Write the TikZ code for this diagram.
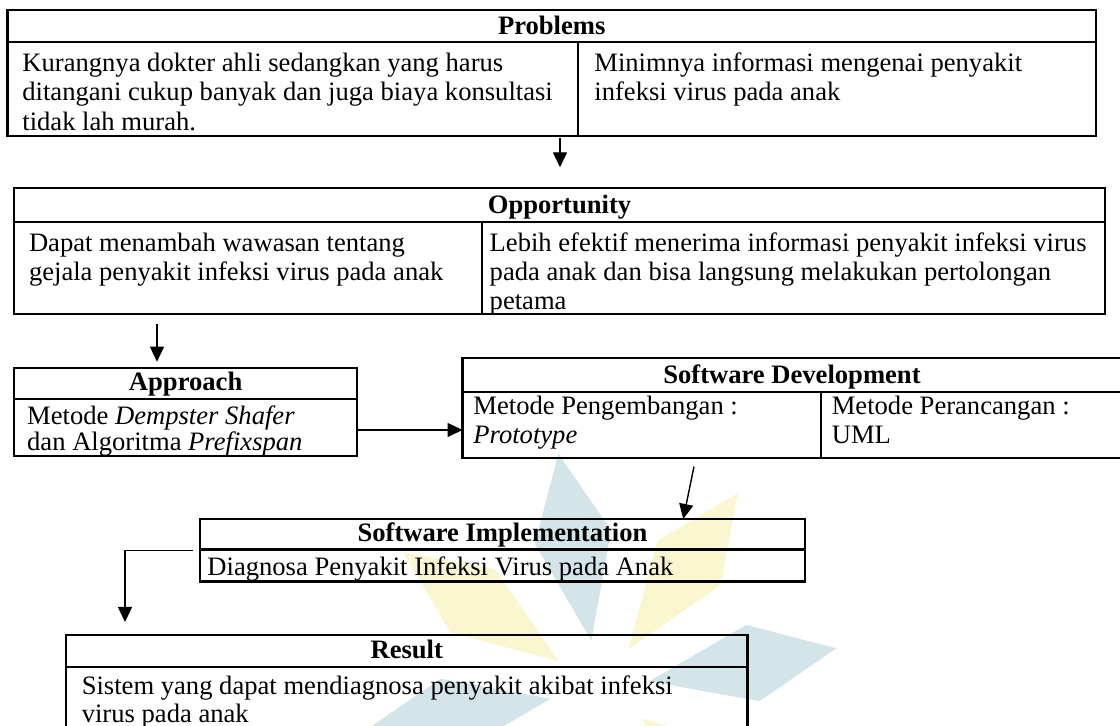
\documentclass[tikz,border=0pt]{standalone}
\usepackage{fontspec}
\setmainfont{Liberation Serif}
\usetikzlibrary{arrows.meta}

\definecolor{wmteal}{RGB}{212,229,234}
\definecolor{wmyellow}{RGB}{250,247,208}

\begin{document}
\begin{tikzpicture}[x=0.5pt,y=-0.5pt,
  box/.style={draw, line width=1.1pt, inner sep=0pt, outer sep=0pt, anchor=north west},
  rule/.style={line width=1.1pt},
  txt/.style={inner sep=0pt, anchor=base west, font=\fontsize{13.3pt}{16pt}\selectfont},
  ttl/.style={inner sep=0pt, anchor=base, font=\fontsize{13.3pt}{16pt}\selectfont\bfseries},
  arr/.style={line width=0.7pt, -{Triangle[length=7.5pt,width=7pt]}}]

\useasboundingbox (0,0) rectangle (1120,726);
\fill[white] (0,0) rectangle (1120,726);
\clip (0,0) rectangle (1120,726);

% faint emblem in the background
\begin{scope}[shift={(600,690)}]
  \foreach \t/\c in {-100/wmteal,-55/wmyellow,-10/wmteal,35/wmyellow,80/wmteal,125/wmyellow,170/wmteal,-145/wmyellow}
    \fill[\c] (\t:50) -- ({\t+14}:160) -- (\t:240) -- ({\t-14}:160) -- cycle;
\end{scope}

% ---------- Problems ----------
\node[box, minimum width=544.25pt, minimum height=63pt] (prob) at (7.5,10) {};
\draw[rule] (7.5,41.7) -- (1096,41.7);
\draw[rule] (578,41.7) -- (578,136);
\node[ttl] (probT) at (551.75,34.5) {Problems};
\node[txt] (prob1) at (22,71.5) {Kurangnya dokter ahli sedangkan yang harus};
\node[txt] (prob2) at (22,101) {ditangani cukup banyak dan juga biaya konsultasi};
\node[txt] (prob3) at (22,130.5) {tidak lah murah.};
\node[txt] (prob4) at (594,71.5) {Minimnya informasi mengenai penyakit};
\node[txt] (prob5) at (594,101) {infeksi virus pada anak};

% ---------- Opportunity ----------
\node[box, minimum width=545.15pt, minimum height=62.85pt] (opp) at (14.3,188.3) {};
\draw[rule] (14.3,221.7) -- (1104.6,221.7);
\draw[rule] (482.1,221.7) -- (482.1,314);
\node[ttl] (oppT) at (559.5,214) {Opportunity};
\node[txt] (opp1) at (28.6,252) {Dapat menambah wawasan tentang};
\node[txt] (opp2) at (28.6,281) {gejala penyakit infeksi virus pada anak};
\node[txt] (opp3) at (489.3,252) {Lebih efektif menerima informasi penyakit infeksi virus};
\node[txt] (opp4) at (489.3,281) {pada anak dan bisa langsung melakukan pertolongan};
\node[txt] (opp5) at (489.3,309.5) {petama};

% ---------- Approach ----------
\node[box, minimum width=171.35pt, minimum height=43.85pt] (app) at (14.3,368.3) {};
\draw[rule] (14.3,399.3) -- (357,399.3);
\node[ttl] (appT) at (185.65,391) {Approach};
\node[txt] (app1) at (26.8,425) {Metode \textit{Dempster Shafer}};
\node[txt] (app2) at (26.8,450.5) {dan Algoritma \textit{Prefixspan}};

% ---------- Software Development ----------
\node[box, minimum width=329.5pt, minimum height=50pt] (sd) at (462.5,358.3) {};
\draw[rule] (462.5,391.7) -- (1121.5,391.7);
\draw[rule] (820.7,391.7) -- (820.7,458.3);
\node[ttl] (sdT) at (792,384) {Software Development};
\node[txt] (sd1) at (473,414.5) {Metode Pengembangan :};
\node[txt] (sd2) at (473,444) {\textit{Prototype}};
\node[txt] (sd3) at (831.4,414.5) {Metode Perancangan :};
\node[txt] (sd4) at (831.4,444) {UML};

% ---------- Software Implementation ----------
\node[box, minimum width=302.5pt, minimum height=31.25pt] (si) at (200,519) {};
\draw[rule] (200,549.5) -- (805,549.5);
\node[ttl] (siT) at (502.5,542) {Software Implementation};
\node[txt] (si1) at (207,575.5) {Diagnosa Penyakit Infeksi Virus pada Anak};

% ---------- Result ----------
\node[box, minimum width=340.75pt, minimum height=62.5pt] (res) at (66,635) {};
\draw[rule] (66,666.7) -- (747.5,666.7);
\node[ttl] (resT) at (406.75,659) {Result};
\node[txt] (res1) at (81.4,694.5) {Sistem yang dapat mendiagnosa penyakit akibat infeksi};
\node[txt] (res2) at (81.4,722.5) {virus pada anak};

% ---------- connectors ----------
\coordinate (c1) at (560,0);
\coordinate (c2) at (157,0);
\coordinate (c3) at (0,430);
\coordinate (c4a) at (695.7,0);
\coordinate (c4b) at (683.2,0);
\coordinate (c5) at (125,550.7);

\draw[arr, shorten <=1pt, shorten >=10.5pt] (prob.south -| c1) -- (opp.north -| c1);
\draw[arr, shorten <=5pt, shorten >=3.3pt] (opp.south -| c2) -- (app.north -| c2);
\draw[arr] (app.east |- c3) -- (sd.west |- c3);
\draw[arr, shorten <=4.2pt] (sd.south -| c4a) -- (si.north -| c4b);
\draw[arr, shorten <=3.5pt, shorten >=6.5pt] (si.west |- c5) -| (res.north -| c5);

\end{tikzpicture}
\end{document}
